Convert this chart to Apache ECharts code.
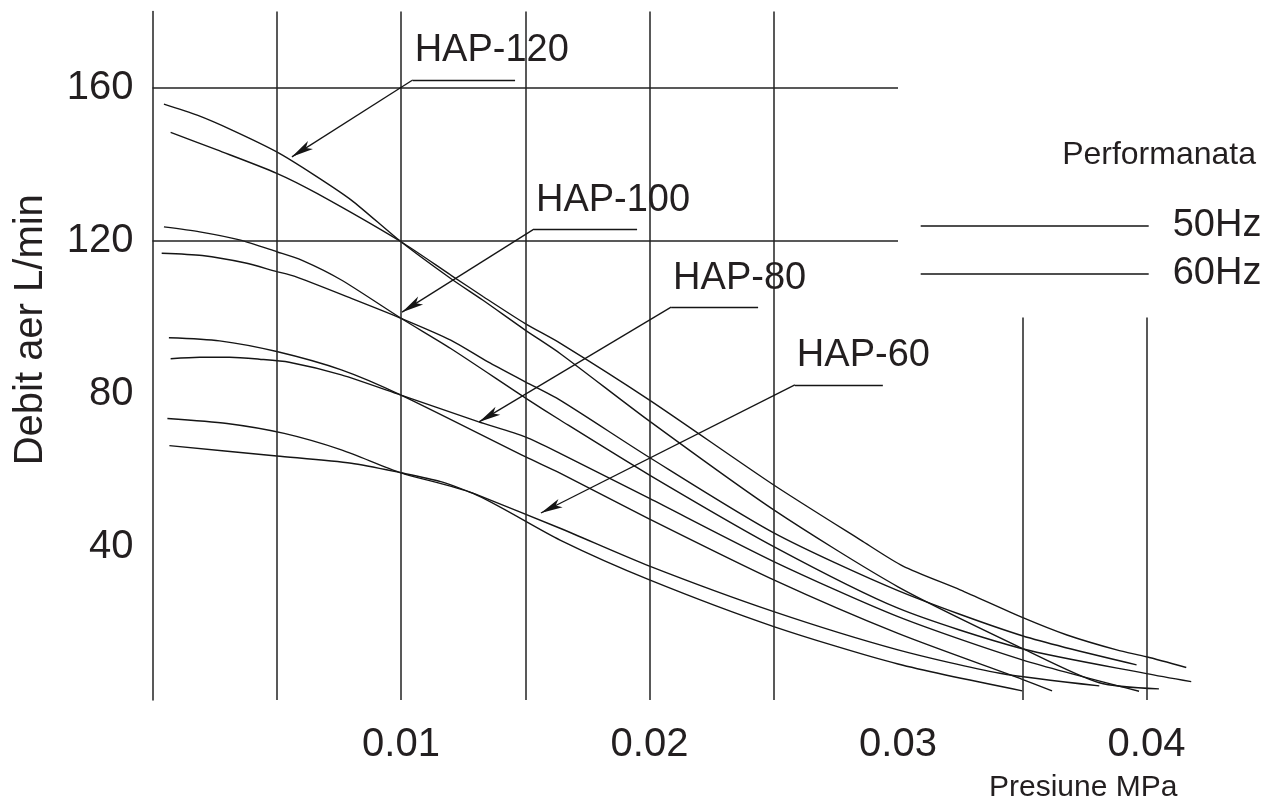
<!DOCTYPE html>
<html>
<head>
<meta charset="utf-8">
<script src="https://cdn.jsdelivr.net/npm/echarts/dist/echarts.min.js"></script>
<style>
html,body{margin:0;padding:0;background:#fff;}
#chart{width:1270px;height:803px;}
</style>
</head>
<body>
<div id="chart"></div>
<script>
// ---- tick labels ----
const xTickLabels = [0.01, 0.02, 0.03, 0.04];
const yTickLabels = [40, 80, 120, 160];

// ---- curves: [pressure MPa, air flow L/min] ----
const hap120_60 = [[0.00046,155.8],[0.0018,152.9],[0.0032,149.0],[0.005,143.3],[0.0065,137.3],[0.008,130.7],[0.01,119.8],[0.012,110.2],[0.0133,104.5],[0.015,96.7],[0.0164,90.6],[0.02,72.9],[0.025,49.7],[0.03,29.6],[0.035,13.5],[0.0381,4.5],[0.0405,2.9]];
const hap120_50 = [[0.00073,148.4],[0.0026,143.8],[0.005,137.7],[0.0066,132.5],[0.01,119.8],[0.012,111.1],[0.0133,105.5],[0.015,98.4],[0.0164,93.3],[0.02,78.4],[0.025,56.2],[0.0285,41.8],[0.0302,35.0],[0.0325,28.8],[0.035,21.6],[0.0368,17.0],[0.0388,13.1],[0.04,11.3],[0.0416,8.5]];
const hap100_60 = [[0.00046,123.7],[0.0019,122.4],[0.0035,120.3],[0.005,117.2],[0.006,115.0],[0.0076,109.8],[0.01,99.8],[0.012,91.9],[0.015,79.0],[0.0164,73.2],[0.02,58.8],[0.025,40.1],[0.03,24.0],[0.035,13.4],[0.04,6.9],[0.0418,4.8]];
const hap100_50 = [[0.00037,116.8],[0.002,116.2],[0.0037,114.3],[0.005,112.0],[0.0057,110.8],[0.008,105.0],[0.01,99.8],[0.012,94.1],[0.0135,88.4],[0.015,83.2],[0.0164,78.4],[0.02,63.4],[0.025,43.7],[0.03,28.6],[0.035,16.8],[0.0396,9.2]];
const hap80_60 = [[0.00066,94.7],[0.0027,93.9],[0.005,91.1],[0.0076,86.3],[0.01,79.7],[0.015,63.6],[0.0164,59.3],[0.02,47.3],[0.025,31.4],[0.03,17.4],[0.035,5.4],[0.0362,2.4]];
const hap80_50 = [[0.00073,89.2],[0.0019,89.6],[0.0031,89.6],[0.0043,89.1],[0.0055,88.3],[0.0076,85.0],[0.01,79.7],[0.0131,72.8],[0.015,68.8],[0.0164,64.5],[0.02,52.7],[0.025,36.2],[0.03,21.8],[0.035,10.5],[0.0397,2.3]];
const hap60_60 = [[0.0006,73.6],[0.003,72.3],[0.0053,69.7],[0.0076,65.4],[0.01,59.4],[0.0129,54.0],[0.0164,41.8],[0.02,31.4],[0.025,19.2],[0.03,9.4],[0.035,2.4]];
const hap60_50 = [[0.00068,66.5],[0.005,63.8],[0.008,61.9],[0.01,59.4],[0.0116,57.1],[0.013,53.8],[0.0164,44.9],[0.02,35.0],[0.025,23.1],[0.03,13.1],[0.0341,7.0],[0.0381,3.7]];

const curveNames = ['60Hz','50Hz','60Hz','50Hz','60Hz','50Hz','60Hz','50Hz'];
const curveData = [hap120_60, hap120_50, hap100_60, hap100_50, hap80_60, hap80_50, hap60_60, hap60_50];
const legendNames = ['50Hz', '60Hz'];

// ---- reference grid lines (data units) ----
const fullGridX = [0.005, 0.01, 0.015, 0.02, 0.025];
const shortGridX = [0.035, 0.04];
const shortGridTop = 100;
const gridY = [120, 160];
const gridYEnd = 0.03;
const yMax = 180;
const xMax = 0.044;

// ---- model callouts (data units) ----
const calloutText = ['HAP-120', 'HAP-100', 'HAP-80', 'HAP-60'];
const calloutShelfStart = [[0.01047,162.1],[0.01535,123.1],[0.02087,102.7],[0.02585,82.4]];
const calloutShelfEnd = [[0.01459,162.1],[0.01950,123.1],[0.02437,102.7],[0.02939,82.4]];
const calloutTip = [[0.00561,142.0],[0.01004,101.4],[0.01314,72.7],[0.01563,48.9]];

// ---- styles ----
const FONT = "'Liberation Sans', Arial, Helvetica, sans-serif";
const INK = '#231f20';
const LINE = '#151515';

const gridLineData = [];
fullGridX.forEach(x => gridLineData.push([{coord:[x,0]},{coord:[x,yMax]}]));
shortGridX.forEach(x => gridLineData.push([{coord:[x,0]},{coord:[x,shortGridTop]}]));
gridY.forEach(y => gridLineData.push([{coord:[0,y]},{coord:[gridYEnd,y]}]));

const calloutData = [];
calloutText.forEach((t, i) => {
  calloutData.push([
    {coord: calloutShelfStart[i], symbol:'none',
     label:{show:true, formatter:t, position:'insideStartTop', distance:[2,10],
            fontSize:38, fontFamily:FONT, color:INK}},
    {coord: calloutShelfEnd[i], symbol:'none'}
  ]);
  calloutData.push([
    {coord: calloutShelfStart[i], symbol:'none'},
    {coord: calloutTip[i], symbol:'arrow', symbolSize:[7,22]}
  ]);
});

const series = curveData.map((d, i) => ({
  type:'line', name:curveNames[i], data:d, symbol:'none', showSymbol:false,
  smooth:0.25, silent:true, z:3,
  itemStyle:{color:LINE},
  lineStyle:{color:LINE, width:1.4}, emphasis:{disabled:true}
}));
series.push({
  type:'line', name:'grid', data:[], silent:true, z:2,
  markLine:{silent:true, animation:false, symbol:'none', label:{show:false},
    emphasis:{disabled:true},
    lineStyle:{color:'#222', width:1.5, type:'solid'}, data:gridLineData}
});
series.push({
  type:'line', name:'callouts', data:[], silent:true, z:4,
  markLine:{silent:true, animation:false, symbol:'none', label:{show:false},
    emphasis:{disabled:true},
    itemStyle:{color:LINE},
    lineStyle:{color:LINE, width:1.3, type:'solid'}, data:calloutData}
});

const chart = echarts.init(document.getElementById('chart'), null, {renderer:'canvas'});
chart.setOption({
  animation:false,
  backgroundColor:'#ffffff',
  textStyle:{fontFamily:FONT, color:INK},
  title:{text:'Performanata', right:14, top:139, padding:0,
    textStyle:{fontSize:32, fontWeight:'normal', color:INK, fontFamily:FONT}},
  legend:{data:legendNames, orient:'vertical', left:920, top:207, padding:0,
    itemWidth:228, itemHeight:14, itemGap:10, selectedMode:false,
    itemStyle:{opacity:0},
    lineStyle:{color:LINE, width:1.4, opacity:1},
    textStyle:{fontSize:38, lineHeight:36, color:INK, fontFamily:FONT, padding:[0,0,0,19]}},
  grid:{left:152.5, right:1270-152.5-xMax*24850, top:11.5, bottom:103,
    containLabel:false, outerBoundsMode:'none'},
  xAxis:{type:'value', min:0, max:xMax, interval:0.01,
    name:'Presiune MPa', nameLocation:'middle', nameGap:73,
    nameTextStyle:{fontSize:30, color:INK, fontFamily:FONT, padding:[0,0,0,768]},
    axisLine:{show:false}, axisTick:{show:false}, splitLine:{show:false},
    axisLabel:{fontSize:40, color:INK, fontFamily:FONT, margin:25,
      formatter: v => xTickLabels.some(t => Math.abs(t - v) < 1e-9) ? v.toFixed(2) : ''}},
  yAxis:{type:'value', min:0, max:yMax, interval:40,
    name:'Debit aer L/min', nameLocation:'middle', nameGap:102, nameRotate:90,
    nameTextStyle:{fontSize:40, color:INK, fontFamily:FONT, padding:[0,0,0,52]},
    axisLine:{show:true, lineStyle:{color:'#222', width:1.5}},
    axisTick:{show:false}, splitLine:{show:false},
    axisLabel:{fontSize:40, color:INK, fontFamily:FONT, margin:19,
      formatter: v => yTickLabels.indexOf(v) >= 0 ? String(v) : ''}},
  series: series
});
</script>
</body>
</html>
